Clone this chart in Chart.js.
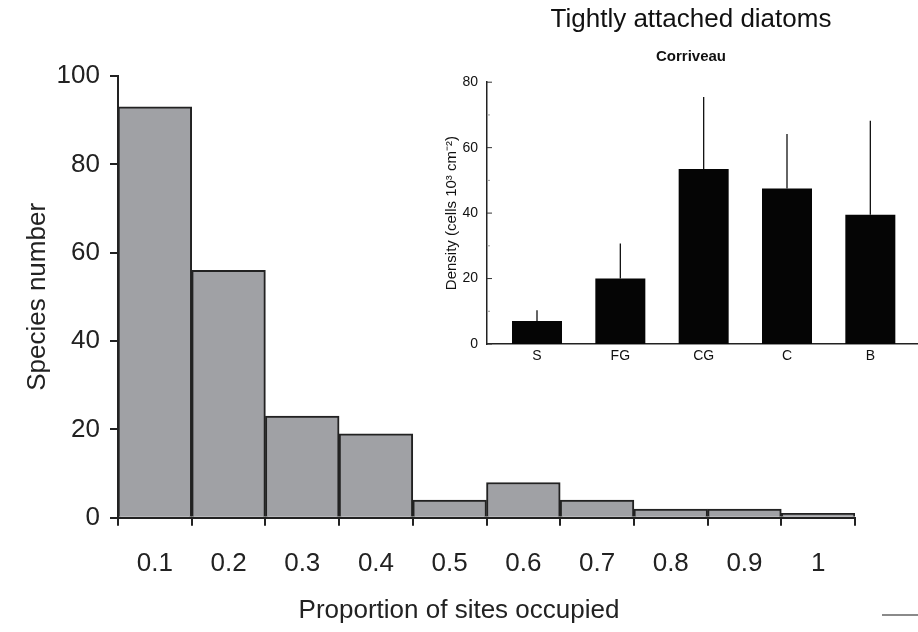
<!DOCTYPE html>
<html>
<head>
<meta charset="utf-8">
<script src="https://cdn.jsdelivr.net/npm/chart.js@4/dist/chart.umd.min.js"></script>
<style>
  html, body { margin: 0; padding: 0; background: #fff; overflow: hidden; }
  #wrap { position: relative; width: 918px; height: 632px; overflow: hidden; }
  #mainChart { position: absolute; left: 0; top: 0; }
  #insetChart { position: absolute; left: 430px; top: 0; }
  .stub { position: absolute; left: 882px; top: 614px; width: 36px; height: 2px; background: #8a8a8a; }
</style>
</head>
<body>
<div id="wrap">
  <canvas id="mainChart" width="918" height="632"></canvas>
  <canvas id="insetChart" width="522" height="380"></canvas>
  <div class="stub"></div>
</div>
<script>
// histogram: species count per occupancy class
const proportionLabels = ['0.1', '0.2', '0.3', '0.4', '0.5', '0.6', '0.7', '0.8', '0.9', '1'];
const speciesCounts = [93, 56, 23, 19, 4, 8, 4, 2, 2, 1];
const speciesTicks = [0, 20, 40, 60, 80, 100];

// inset: tightly attached diatoms, Corriveau
const habitatLabels = ['S', 'FG', 'CG', 'C', 'B'];
const densityMeans = [7, 20, 53.5, 47.5, 39.5];
const densitySd = [3.3, 10.7, 22, 16.7, 28.7];
const densityTicks = [0, 20, 40, 60, 80];

const FONT = '"Liberation Sans", Arial, Helvetica, sans-serif';
const INK = '#222';

new Chart(document.getElementById('mainChart'), {
  type: 'bar',
  data: {
    labels: proportionLabels,
    datasets: [{
      data: speciesCounts,
      backgroundColor: '#a0a1a5',
      borderColor: INK,
      borderWidth: 2,
      barPercentage: 1,
      categoryPercentage: 1
    }]
  },
  options: {
    responsive: false,
    animation: false,
    layout: { padding: { left: 0, top: 76, right: 0, bottom: 0 } },
    plugins: {
      legend: { display: false },
      tooltip: { enabled: false },
      title: {
        display: true,
        position: 'bottom',
        text: 'Proportion of sites occupied',
        color: INK,
        font: { family: FONT, size: 26, weight: 'normal' },
        padding: { top: 0, bottom: 6 }
      }
    },
    scales: {
      x: {
        afterFit: (scale) => { scale.height = 77; },
        grid: { drawOnChartArea: false, drawTicks: true, tickLength: 8, color: INK, lineWidth: 2 },
        border: { display: true, color: INK, width: 2 },
        ticks: { color: INK, font: { family: FONT, size: 26 }, padding: 22, maxRotation: 0 }
      },
      y: {
        min: 0,
        max: 100,
        afterFit: (scale) => { scale.width = 118; },
        afterBuildTicks: (scale) => { scale.ticks = speciesTicks.map(v => ({ value: v })); },
        grid: { drawOnChartArea: false, drawTicks: true, tickLength: 8, color: INK, lineWidth: 2 },
        border: { display: true, color: INK, width: 2 },
        ticks: { color: INK, font: { family: FONT, size: 26 }, padding: 10 },
        title: {
          display: true,
          text: 'Species number',
          color: INK,
          font: { family: FONT, size: 26 },
          padding: { top: 22, bottom: 0 }
        }
      },
      // empty right-hand gutter so the bottom title stays centred on the page
      yRight: {
        position: 'right',
        min: 0,
        max: 100,
        afterFit: (scale) => { scale.width = 63; },
        grid: { display: false, drawTicks: false },
        border: { display: false },
        ticks: { display: false }
      }
    }
  }
});

// upward error whiskers and inward tick marks for the inset
const insetExtras = {
  id: 'insetExtras',
  afterDatasetsDraw(chart) {
    const ctx = chart.ctx;
    const xs = chart.scales.x;
    const ys = chart.scales.y;
    ctx.save();
    ctx.strokeStyle = '#111';
    ctx.lineWidth = 1.3;
    densityMeans.forEach((m, i) => {
      const px = xs.getPixelForValue(i);
      ctx.beginPath();
      ctx.moveTo(px, ys.getPixelForValue(m));
      ctx.lineTo(px, ys.getPixelForValue(m + densitySd[i]));
      ctx.stroke();
    });
    ctx.lineWidth = 1;
    ys.ticks.forEach(t => {
      const py = ys.getPixelForValue(t.value);
      const major = t.value % 20 === 0;
      ctx.strokeStyle = major ? '#333' : '#999';
      ctx.beginPath();
      ctx.moveTo(xs.left, py);
      ctx.lineTo(xs.left + (major ? 5 : 3), py);
      ctx.stroke();
    });
    ctx.restore();
  }
};

new Chart(document.getElementById('insetChart'), {
  type: 'bar',
  data: {
    datasets: [{
      data: densityMeans.map((v, i) => ({ x: i, y: v })),
      backgroundColor: '#050505',
      borderWidth: 0,
      barPercentage: 0.6,
      categoryPercentage: 1
    }]
  },
  plugins: [insetExtras],
  options: {
    responsive: false,
    animation: false,
    layout: { padding: 0 },
    plugins: {
      legend: { display: false },
      tooltip: { enabled: false },
      title: {
        display: true,
        text: 'Tightly attached diatoms',
        color: '#111',
        font: { family: FONT, size: 26, weight: 'normal' },
        padding: { top: 4, bottom: 10 }
      },
      subtitle: {
        display: true,
        text: 'Corriveau',
        color: '#111',
        font: { family: FONT, size: 15, weight: 'bold' },
        padding: { top: 3, bottom: 16 }
      }
    },
    scales: {
      x: {
        type: 'linear',
        offset: false,
        min: -0.6,
        max: 4.98,
        afterFit: (scale) => { scale.height = 36; },
        afterBuildTicks: (scale) => { scale.ticks = habitatLabels.map((c, i) => ({ value: i })); },
        grid: { display: false, drawTicks: false },
        border: { display: true, color: '#222', width: 1.5 },
        ticks: {
          color: '#111',
          font: { family: FONT, size: 14 },
          padding: 4,
          maxRotation: 0,
          callback: (v) => habitatLabels[v]
        }
      },
      y: {
        min: 0,
        max: 80,
        afterFit: (scale) => { scale.width = 57; },
        afterBuildTicks: (scale) => {
          scale.ticks = [0, 10, 20, 30, 40, 50, 60, 70, 80].map(v => ({ value: v }));
        },
        grid: { display: false, drawTicks: false },
        border: { display: true, color: '#222', width: 1.5 },
        ticks: {
          color: '#111',
          font: { family: FONT, size: 14 },
          padding: 9,
          callback: (v) => densityTicks.includes(v) ? String(v) : ''
        },
        title: {
          display: true,
          text: 'Density (cells 10³ cm⁻²)',
          color: '#111',
          font: { family: FONT, size: 15 },
          padding: { top: 13, bottom: 0 }
        }
      }
    }
  }
});
</script>
</body>
</html>
